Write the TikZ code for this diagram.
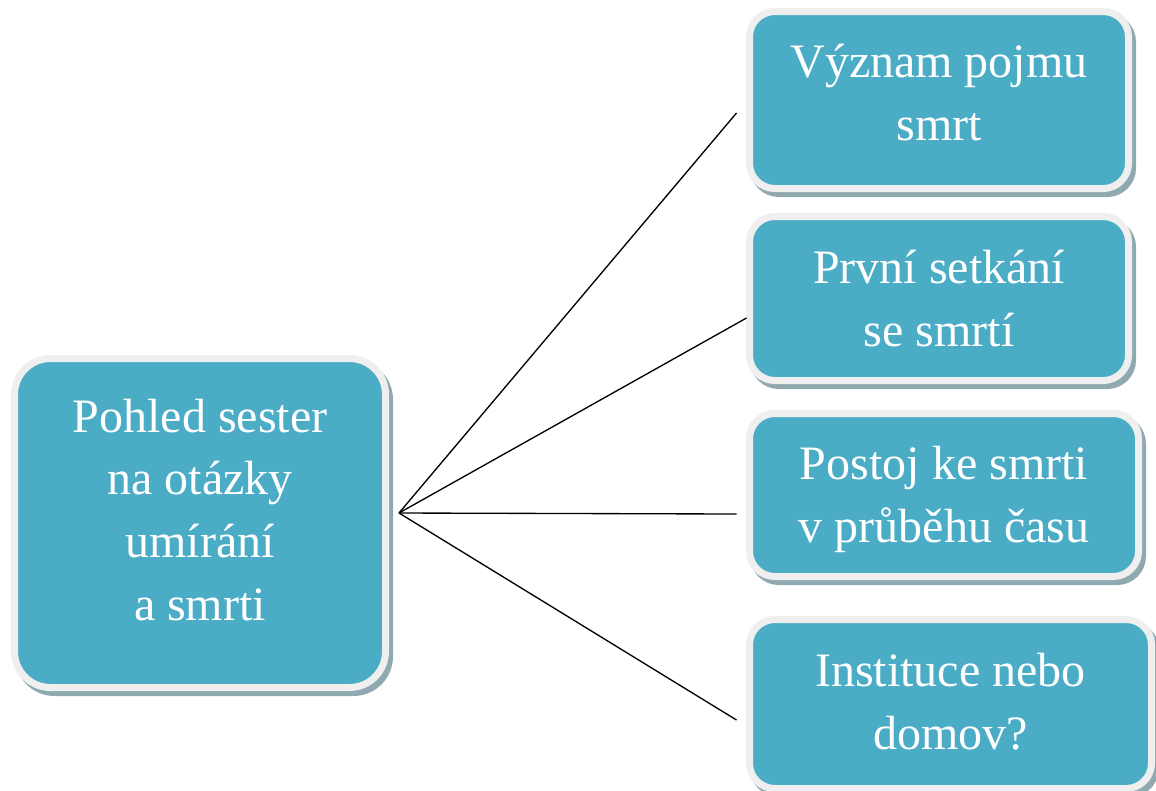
\documentclass[tikz,border=0pt]{standalone}
\usepackage{fontspec}
\setmainfont{Liberation Serif}
\usetikzlibrary{shadows,calc}
\definecolor{tealfill}{HTML}{4BACC6}
\definecolor{rimgray}{HTML}{EFEFEF}
\definecolor{shadegray}{HTML}{8FA9B0}
\begin{document}
\begin{tikzpicture}[x=0.75pt,y=-0.75pt,
  box/.style={rectangle, rounded corners=19pt, fill=tealfill, draw=rimgray,
    line width=5.25pt, text=white, align=center, inner sep=0pt,
    font=\fontsize{36pt}{47pt}\selectfont, text depth=0pt,
    drop shadow={shadow xshift=3pt, shadow yshift=-3.75pt, fill=shadegray,
      draw=shadegray, line width=5.25pt, opacity=1}},
  link/.style={line width=1pt, draw=black}]
\fill[white] (0,0) rectangle (1156,790);
\useasboundingbox (0,0) rectangle (1156,790);

\node[box, rounded corners=27pt, minimum width=278.25pt, minimum height=246.75pt,
  text height=145.5pt] (L) at (200,523) {Pohled sester\\na otázky\\umírání\\a smrti};
\node[box, minimum width=284.25pt, minimum height=132.75pt, text height=60pt]
  (B1) at (939,100) {Význam pojmu\\smrt};
\node[box, minimum width=284.25pt, minimum height=123pt, text height=71.25pt]
  (B2) at (939,298.5) {První setkání\\se smrtí};
\node[box, minimum width=291.75pt, minimum height=122.25pt, text height=70.5pt]
  (B3) at (944,495) {Postoj ke smrti\\v průběhu času};
\node[box, minimum width=301.5pt, minimum height=126.75pt, text height=67.5pt]
  (B4) at (950.5,704) {Instituce nebo\\domov?};

\coordinate (hub) at ($(L.east)+(10,-10)$);
\draw[link] (hub) -- ($(B1.west)+(-9.5,13)$);
\draw[link] (hub) -- ($(B2.west)+(0.5,19.5)$);
\draw[link] (hub) -- ($(B3.west)+(-9.5,19)$);
\draw[link] (hub) -- ($(B4.west)+(-9.5,16)$);
\end{tikzpicture}
\end{document}
